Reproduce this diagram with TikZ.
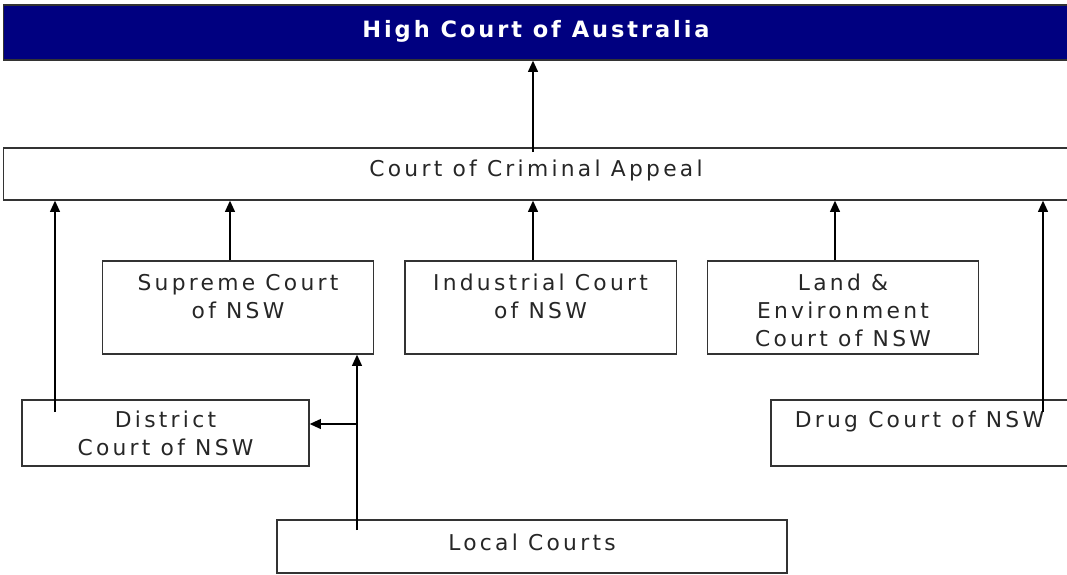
\documentclass[tikz,border=0pt]{standalone}
\usepackage{fontspec}
\usepackage{tikz}
\usetikzlibrary{arrows.meta}
\newfontfamily\courtfont[LetterSpace=15]{DejaVu Sans}
\newfontfamily\highfont[LetterSpace=13]{DejaVu Sans}
\definecolor{navy}{RGB}{0,0,128}
\begin{document}
\begin{tikzpicture}[x=0.025cm,y=-0.025cm,
    court/.style={shape=rectangle,draw=black!80,line width=0.9pt,inner sep=0pt,align=center,
        font=\courtfont\fontsize{15.5}{20}\selectfont,text=black!85},
    tall/.style={court,minimum width=6.78cm,minimum height=2.325cm},
    up/.style={-{Triangle[length=8pt,width=7pt]},line width=1.2pt,draw=black}]
        \useasboundingbox (0,0) rectangle (1067,574);

        \node[court,fill=navy,text=white,font=\highfont\bfseries\fontsize{16}{20}\selectfont,minimum width=26.6cm,minimum height=1.375cm] (high) at (536,32.5) {\raisebox{0.6pt}[\height][\depth]{High Court of Australia}};
        \node[court,minimum width=26.6cm,minimum height=1.3cm] (cca) at (536,174) {\raisebox{2.8pt}[\height][\depth]{Court of Criminal Appeal}};
        \node[tall] (supreme) at (238,307.5)     {\\[-4.2pt]Supreme Court\\of NSW\\~};
        \node[tall] (industrial) at (540.5,307.5)     {\\[-4.2pt]Industrial Court\\of NSW\\~};
        \node[tall] (land) at (843,307.5)     {\\[-4.2pt]Land \&\\Environment\\Court of NSW};
        \node[court,minimum width=7.175cm,minimum height=1.65cm] (district) at (165.5,433)     {District\\Court of NSW};
        \node[court,minimum width=7.425cm,minimum height=1.65cm] (drug) at (919.5,433)     {Drug Court of NSW\\~};
        \node[court,minimum width=12.75cm,minimum height=1.325cm] (local) at (532,546.5)     {\raisebox{3.2pt}[\height][\depth]{Local Courts}};

        \coordinate (cca foot) at (533,152);
        \coordinate (district foot) at (55,412);
        \coordinate (drug foot) at (1043,412);
        \coordinate (local foot) at (357,530);
        \coordinate (split) at (357,424);

	\draw[up] (cca foot) -- (cca foot |- high.south);
	\draw[up] (district foot) -- (district foot |- cca.south);
	\draw[up] ([xshift=-0.2cm]supreme.north) -- ([xshift=-0.2cm]supreme.north |- cca.south);
	\draw[up] ([xshift=-0.1875cm]industrial.north) -- ([xshift=-0.1875cm]industrial.north |- cca.south);
	\draw[up] ([xshift=-0.2cm]land.north) -- ([xshift=-0.2cm]land.north |- cca.south);
	\draw[up] (drug foot) -- (drug foot |- cca.south);
	\draw[up] (local foot) -- (local foot |- supreme.south);
	\draw[up] (split) -- (split -| district.east);
	\end{tikzpicture}
\end{document}
